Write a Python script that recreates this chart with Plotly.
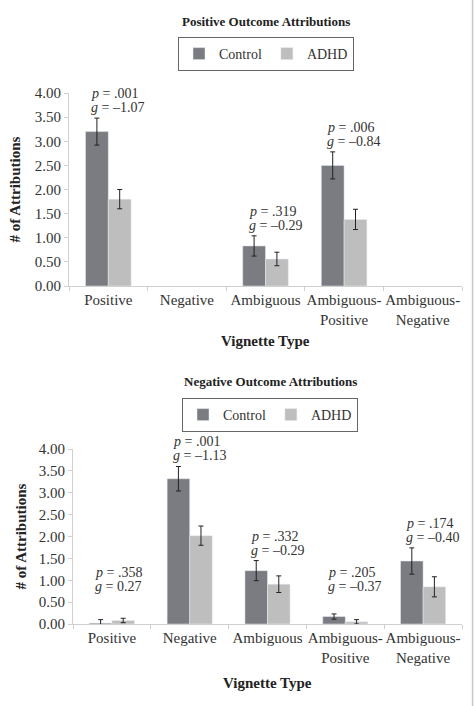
import plotly.graph_objects as go

# ---- data ----
categories = ["Positive", "Negative", "Ambiguous", "Ambiguous-<br>Positive", "Ambiguous-<br>Negative"]

pos_control = [3.20, None, 0.83, 2.50, None]
pos_control_err = [0.28, None, 0.21, 0.28, None]
pos_adhd = [1.80, None, 0.56, 1.38, None]
pos_adhd_err = [0.20, None, 0.14, 0.21, None]
pos_p = [".001", None, ".319", ".006", None]
pos_g = ["–1.07", None, "–0.29", "–0.84", None]

neg_control = [0.02, 3.32, 1.22, 0.17, 1.44]
neg_control_err = [0.08, 0.28, 0.23, 0.06, 0.30]
neg_adhd = [0.08, 2.02, 0.91, 0.05, 0.85]
neg_adhd_err = [0.05, 0.22, 0.19, 0.05, 0.23]
neg_p = [".358", ".001", ".332", ".205", ".174"]
neg_g = ["0.27", "–1.13", "–0.29", "–0.37", "–0.40"]

titles = ["Positive Outcome Attributions", "Negative Outcome Attributions"]
y_ticks = [0, 0.5, 1.0, 1.5, 2.0, 2.5, 3.0, 3.5, 4.0]

# ---- style ----
FONT = "Liberation Serif, Times New Roman, serif"
TXT = "#333333"
C_CTRL = "#7b7c81"
C_ADHD = "#bebebe"
AXC = "#d0d0d0"

W, H = 474, 706
panels = [
    dict(x=(69 / W, 462 / W), y=(1 - 286 / H, 1 - 93 / H), leg_y=1 - 37 / H, title_y=1 - 21 / H,
         xt_y=1 - 341 / H, yt_x=15 / W, leg_x=266 / W, floor=0.0),
    dict(x=(73 / W, 462 / W), y=(1 - 624 / H, 1 - 449 / H), leg_y=1 - 398 / H, title_y=1 - 381 / H,
         xt_y=1 - 683 / H, yt_x=21 / W, leg_x=270 / W, floor=0.62),
]

fig = go.Figure()
series = [
    (pos_control, pos_control_err, pos_adhd, pos_adhd_err, pos_p, pos_g),
    (neg_control, neg_control_err, neg_adhd, neg_adhd_err, neg_p, neg_g),
]

annotations = []
for i, (ctrl, ctrl_e, adhd, adhd_e, pv, gv) in enumerate(series):
    n = "" if i == 0 else str(i + 1)
    xa, ya = "x" + n, "y" + n
    leg = "legend" + n
    fig.add_trace(go.Bar(x=categories, y=ctrl, name="Control", marker_color=C_CTRL,
                         error_y=dict(type="data", array=ctrl_e, color="#222222", thickness=1, width=2.5),
                         xaxis=xa, yaxis=ya, legend=leg))
    fig.add_trace(go.Bar(x=categories, y=adhd, name="ADHD", marker_color=C_ADHD,
                         error_y=dict(type="data", array=adhd_e, color="#222222", thickness=1, width=2.5),
                         xaxis=xa, yaxis=ya, legend=leg))
    p = panels[i]
    for j, cat in enumerate(categories):
        if pv[j] is None:
            continue
        top = max((ctrl[j] or 0) + (ctrl_e[j] or 0), (adhd[j] or 0) + (adhd_e[j] or 0), p["floor"])
        for k, line in enumerate([f"<i>g</i> = {gv[j]}", f"<i>p</i> = {pv[j]}"]):
            annotations.append(dict(
                x=cat, y=top, xref=xa, yref=ya, xanchor="left", yanchor="bottom",
                xshift=-18, yshift=2 + 14 * k, showarrow=False, text=line, borderpad=0,
                font=dict(family=FONT, size=14, color=TXT)))
    annotations.append(dict(x=p["leg_x"], y=p["title_y"], xref="paper", yref="paper",
                            xanchor="center", yanchor="middle", showarrow=False,
                            text=f"<b>{titles[i]}</b>", font=dict(family=FONT, size=13, color="#222222")))
    annotations.append(dict(x=(p["x"][0] + p["x"][1]) / 2, y=p["xt_y"], xref="paper", yref="paper",
                            xanchor="center", yanchor="middle", showarrow=False,
                            text="<b>Vignette Type</b>", font=dict(family=FONT, size=15, color="#222222")))
    annotations.append(dict(x=p["yt_x"], y=(p["y"][0] + p["y"][1]) / 2, xref="paper", yref="paper",
                            xanchor="center", yanchor="middle", showarrow=False, textangle=-90,
                            text="<b># of Attributions</b>", font=dict(family=FONT, size=15, color="#222222")))

axis_common_x = dict(type="category", categoryorder="array", categoryarray=categories,
                     showline=True, linecolor=AXC, linewidth=1, ticks="outside", tickson="boundaries",
                     ticklen=4, tickcolor=AXC, showgrid=False, zeroline=False, tickangle=0,
                     tickfont=dict(family=FONT, size=15, color=TXT))
axis_common_y = dict(range=[0, 4], tickvals=y_ticks, tickformat=".2f", showline=True, linecolor=AXC,
                     linewidth=1, ticks="outside", ticklen=4, tickcolor=AXC, showgrid=False,
                     zeroline=False, tickfont=dict(family=FONT, size=15, color=TXT))

legend_common = dict(orientation="h", xanchor="center", yanchor="top", bordercolor="#666666",
                     borderwidth=1, bgcolor="white", font=dict(family=FONT, size=14, color=TXT),
                     itemwidth=30, tracegroupgap=0)

fig.update_layout(
    width=W, height=H, margin=dict(l=0, r=0, t=0, b=0, pad=0, autoexpand=False),
    paper_bgcolor="white", plot_bgcolor="white",
    barmode="group", bargap=0.42, bargroupgap=0,
    xaxis=dict(domain=list(panels[0]["x"]), anchor="y", **axis_common_x),
    yaxis=dict(domain=list(panels[0]["y"]), anchor="x", **axis_common_y),
    xaxis2=dict(domain=list(panels[1]["x"]), anchor="y2", **axis_common_x),
    yaxis2=dict(domain=list(panels[1]["y"]), anchor="x2", **axis_common_y),
    legend=dict(x=panels[0]["leg_x"], y=panels[0]["leg_y"], **legend_common),
    legend2=dict(x=panels[1]["leg_x"], y=panels[1]["leg_y"], **legend_common),
    annotations=annotations,
    shapes=[dict(type="line", xref="paper", yref="paper", x0=0.997, x1=0.997, y0=0, y1=1,
                 line=dict(color="#c8c8c8", width=1.5))],
    showlegend=True,
)

fig.write_html(
    "out.html",
    config={"displayModeBar": False},
    post_script="document.body.style.margin='0px';document.body.style.overflow='hidden';"
                "document.documentElement.style.overflow='hidden';",
)
